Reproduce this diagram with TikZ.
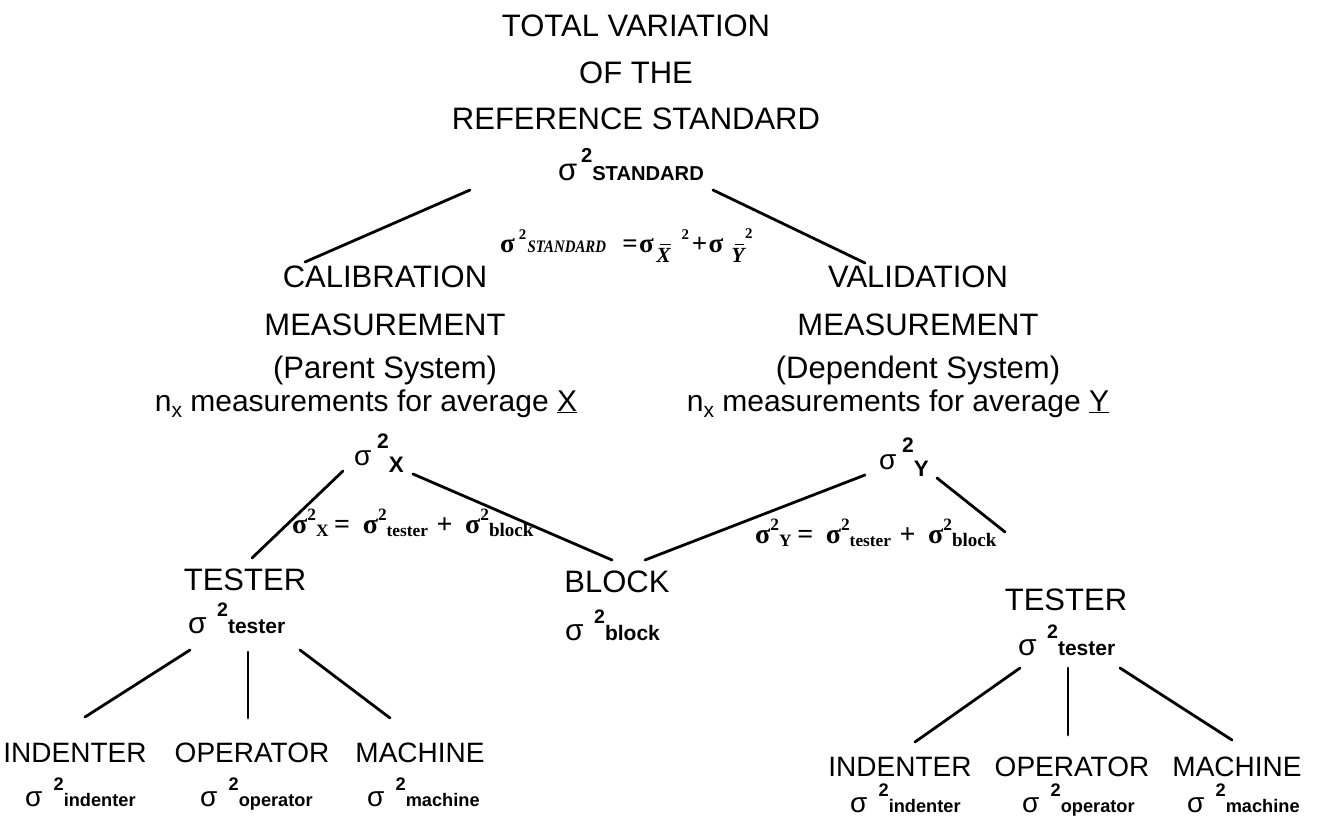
\documentclass[tikz,border=0pt]{standalone}
\usepackage{fontspec}
\usepackage{graphicx}
\setmainfont{Liberation Sans}
\newfontfamily\tms{Liberation Serif}

% sigma squared with a bold index: #1 gap, #2 index shift, #3 index scale, #4 index text
\newcommand\vsg[4]{σ\hspace{#1}\raisebox{0.55em}{\scalebox{0.65}{\bfseries 2}}\raisebox{#2}{\scalebox{#3}{\bfseries #4}}}
% serif sigma squared with index, used inside the equations
\newcommand\tsg[2]{σ\raisebox{0.45em}{\scalebox{0.62}{2}}\raisebox{-0.14em}{\scalebox{#1}{#2}}}
% barred italic letter lowered as an index
\newcommand\barl[1]{\raisebox{-0.38em}{\setbox0\hbox{\scalebox{0.8}{\itshape #1}}%
  \rlap{\hspace{0.14em}\raisebox{\dimexpr\ht0+0.1em\relax}{\rule{\dimexpr\wd0-0.14em\relax}{0.06em}}}\box0}}

\begin{document}
\begin{tikzpicture}[x=1pt,y=-1pt,
  head/.style={font=\fontsize{31}{31}\selectfont, inner sep=0, anchor=base},
  note/.style={font=\fontsize{30}{30}\selectfont, inner sep=0, anchor=base},
  leaf/.style={font=\fontsize{28}{28}\selectfont, inner sep=0, anchor=base},
  sig/.style={inner sep=0, anchor=base west},
  eqn/.style={font=\tms\bfseries\fontsize{28}{28}\selectfont, inner sep=0, anchor=base west},
  link/.style={line width=2.8pt, line cap=round}]
\useasboundingbox (0,0) rectangle (1326,817);

% title
\node[head] (t1) at (636,36) {TOTAL VARIATION};
\node[head] (t2) at (636,83) {OF THE};
\node[head] (t3) at (636,129) {REFERENCE STANDARD};
\node[sig, font=\fontsize{31}{31}\selectfont] (sstd) at (558,180) {\vsg{0.12em}{0em}{0.65}{STANDARD}};

% top equation
\node[sig, font=\tms\bfseries\fontsize{27}{27}\selectfont] (estd) at (500,252)
  {σ\hspace{0.15em}\raisebox{0.45em}{\scalebox{0.55}{2}}\hspace{0.05em}\scalebox{0.55}[0.65]{\itshape STANDARD}\hspace{0.6em}=\hspace{0.05em}σ\hspace{0.1em}\barl{X}\hspace{0.4em}\raisebox{0.45em}{\scalebox{0.55}{2}}\hspace{0.1em}+\hspace{0.05em}σ\hspace{0.3em}\barl{Y}\hspace{0.02em}\raisebox{0.5em}{\scalebox{0.55}{2}}};

% calibration branch
\node[head] (c1) at (385,287) {CALIBRATION};
\node[head] (c2) at (385,335) {MEASUREMENT};
\node[head] (c3) at (385,378) {(Parent System)};
\node[note] (c4) at (366,411) {n\raisebox{-0.2em}{\scalebox{0.7}{x}} measurements for average \underline{X}};

% validation branch
\node[head] (v1) at (918,287) {VALIDATION};
\node[head] (v2) at (918,335) {MEASUREMENT};
\node[head] (v3) at (918,378) {(Dependent System)};
\node[note] (v4) at (898,411) {n\raisebox{-0.2em}{\scalebox{0.7}{x}} measurements for average \underline{Y}};

\node[sig, font=\fontsize{28}{28}\selectfont] (sx) at (354,465) {σ\hspace{0.2em}\raisebox{0.6em}{\scalebox{0.75}{\bfseries 2}}\raisebox{-0.25em}{\scalebox{0.8}{\bfseries X}}};
\node[sig, font=\fontsize{28}{28}\selectfont] (sy) at (879,469) {σ\hspace{0.2em}\raisebox{0.6em}{\scalebox{0.75}{\bfseries 2}}\raisebox{-0.25em}{\scalebox{0.8}{\bfseries Y}}};

% middle equations
\node[eqn] (ex) at (292,533) {\tsg{0.62}{X}\hspace{0.2em}=\hspace{0.45em}\tsg{0.62}{tester}\hspace{0.3em}+\hspace{0.45em}\tsg{0.68}{block}};
\node[eqn] (ey) at (755,543) {\tsg{0.62}{Y}\hspace{0.2em}=\hspace{0.45em}\tsg{0.62}{tester}\hspace{0.3em}+\hspace{0.45em}\tsg{0.68}{block}};

% second level
\node[head] (tl) at (245,590) {TESTER};
\node[sig, font=\fontsize{30}{30}\selectfont] (stl) at (188,633) {\vsg{0.35em}{0em}{0.7}{tester}};
\node[head] (bk) at (617,592) {BLOCK};
\node[sig, font=\fontsize{30}{30}\selectfont] (sbk) at (565,640) {\vsg{0.35em}{0em}{0.7}{block}};
\node[head] (tr) at (1066,610) {TESTER};
\node[sig, font=\fontsize{30}{30}\selectfont] (str) at (1018,655) {\vsg{0.35em}{0em}{0.7}{tester}};

% leaves, left
\node[leaf] (il) at (75,762) {INDENTER};
\node[leaf] (ol) at (252,762) {OPERATOR};
\node[leaf] (ml) at (420,762) {MACHINE};
\node[sig, font=\fontsize{28}{28}\selectfont] (sil) at (25,806) {\vsg{0.4em}{0em}{0.65}{indenter}};
\node[sig, font=\fontsize{28}{28}\selectfont] (sol) at (200,806) {\vsg{0.4em}{0em}{0.65}{operator}};
\node[sig, font=\fontsize{28}{28}\selectfont] (sml) at (367,806) {\vsg{0.4em}{0em}{0.65}{machine}};

% leaves, right
\node[leaf] (ir) at (900,776) {INDENTER};
\node[leaf] (or) at (1072,776) {OPERATOR};
\node[leaf] (mr) at (1237,776) {MACHINE};
\node[sig, font=\fontsize{28}{28}\selectfont] (sir) at (850,812) {\vsg{0.4em}{0em}{0.65}{indenter}};
\node[sig, font=\fontsize{28}{28}\selectfont] (sor) at (1022,812) {\vsg{0.4em}{0em}{0.65}{operator}};
\node[sig, font=\fontsize{28}{28}\selectfont] (smr) at (1187,812) {\vsg{0.4em}{0em}{0.65}{machine}};

% connector ends
\coordinate (std-l) at (470,190);  \coordinate (c1-t) at (305,262);
\coordinate (std-r) at (713,190);  \coordinate (v1-t) at (865,263);
\coordinate (sx-l) at (343,471);   \coordinate (tl-t) at (252,558);
\coordinate (sx-r) at (413,474);   \coordinate (bk-tl) at (612,560);
\coordinate (sy-l) at (865,475);   \coordinate (bk-tr) at (645,560);
\coordinate (sy-r) at (937,478);   \coordinate (tr-t) at (1005,532);
\coordinate (stl-a) at (190,650);  \coordinate (il-t) at (85,717);
\coordinate (stl-b) at (248,652);  \coordinate (ol-t) at (248,718);
\coordinate (stl-c) at (300,650);  \coordinate (ml-t) at (390,718);
\coordinate (str-a) at (1020,668); \coordinate (ir-t) at (915,742);
\coordinate (str-b) at (1068,668); \coordinate (or-t) at (1068,735);
\coordinate (str-c) at (1120,668); \coordinate (mr-t) at (1232,740);

\draw[link] (std-l) -- (c1-t);
\draw[link] (std-r) -- (v1-t);
\draw[link] (sx-l) -- (tl-t);
\draw[link] (sx-r) -- (bk-tl);
\draw[link] (sy-l) -- (bk-tr);
\draw[link] (sy-r) -- (tr-t);
\draw[link] (stl-a) -- (il-t);
\draw[link] (stl-b) -- (ol-t);
\draw[link] (stl-c) -- (ml-t);
\draw[link] (str-a) -- (ir-t);
\draw[link] (str-b) -- (or-t);
\draw[link] (str-c) -- (mr-t);
\end{tikzpicture}
\end{document}
